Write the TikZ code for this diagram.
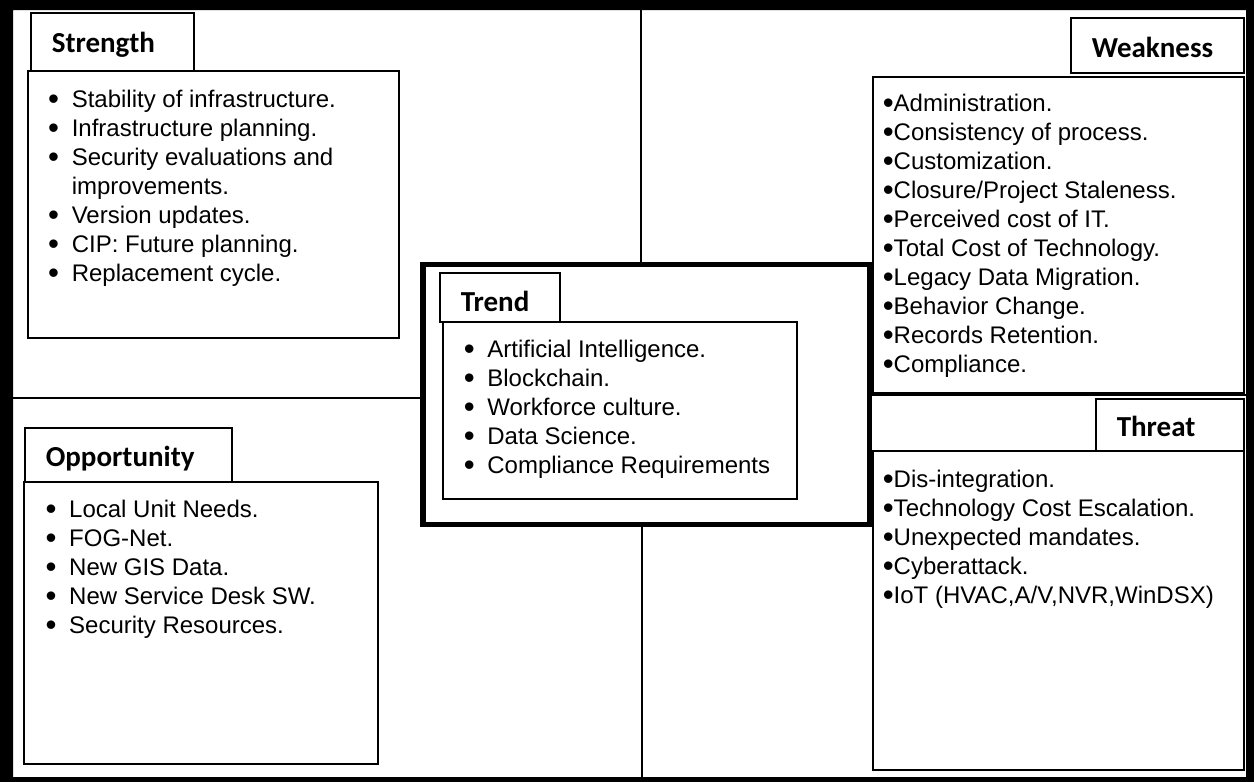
\documentclass[tikz,border=0pt]{standalone}
\usepackage{fontspec}
\setmainfont{Liberation Sans}
\newfontfamily\headfont{Carlito}
\usepackage{xcolor}
\usepackage{tikz}
\definecolor{SwotInk}{RGB}{0,0,0}
\newcommand\swotbullet{\raisebox{-1.3pt}{\scalebox{1.3}{\textbullet}}}
\newcommand\swotitem[1]{\makebox[11.8pt][l]{\swotbullet}#1\strut}
\newcommand\swotdot[1]{\swotbullet#1\strut}
\tikzset{
  headbox/.style={draw=SwotInk, line width=0.8pt, anchor=north west, inner xsep=10.5pt, inner ysep=0pt,
    text height=12.5pt, text depth=0.5pt, align=left, text=SwotInk,
    font=\headfont\fontsize{14.5}{16}\selectfont\bfseries},
  bodybox/.style={draw=SwotInk, line width=0.8pt, anchor=north west, inner sep=0pt},
  itemlist/.style={anchor=north west, inner sep=0pt, align=left, text=SwotInk, font=\fontsize{12}{14.5}\selectfont},
  quadline/.style={draw=SwotInk, line width=0.6pt}
}

\begin{document}
\begin{tikzpicture}[x=1pt, y=-1pt]
    \path[use as bounding box] (0,0) rectangle (627,391);
    \fill[SwotInk, even odd rule] (0,0) rectangle (627,391) (6.5,5) rectangle (623,388.5);
    \node[draw=SwotInk, line width=2.75pt, minimum width=223.25pt, minimum height=130pt, inner sep=0pt] (trend) at (323.125,197.25) {};
    \coordinate (vtop) at (320.5,5);
    \coordinate (vbot) at (321,388.5);
    \coordinate (hleft) at (6.5,199);
    \coordinate (hright) at (623,197.5);
    \draw[quadline] (vtop) -- (vtop |- trend.north);
    \draw[quadline] (vbot) -- (vbot |- trend.south);
    \draw[quadline] (hleft) -- (hleft -| trend.west);
    \draw[quadline] (hright) -- (hright -| trend.east);

    \node[bodybox, minimum width=185.5pt, minimum height=133.5pt] (strbody) at (13.5,35) {};
    \node[headbox, text width=60.5pt, minimum height=29pt, text height=11pt] (strhead) at (15,6) {Strength};
    \node[itemlist] (strlist) at (23.9,43.15) {
      \swotitem{Stability of infrastructure.}\\
      \swotitem{Infrastructure planning.}\\
      \swotitem{Security evaluations and}\\
      \hspace*{11.8pt}improvements.\strut\\
      \swotitem{Version updates.}\\
      \swotitem{CIP: Future planning.}\\
      \swotitem{Replacement cycle.}};

    \node[bodybox, minimum width=185.5pt, minimum height=158pt] (weakbody) at (436,38) {};
    \node[headbox, text width=65.5pt, minimum height=27.5pt] (weakhead) at (535,8.5) {Weakness};
    \node[itemlist] (weaklist) at (441.2,45.15) {
      \swotdot{Administration.}\\
      \swotdot{Consistency of process.}\\
      \swotdot{Customization.}\\
      \swotdot{Closure/Project Staleness.}\\
      \swotdot{Perceived cost of IT.}\\
      \swotdot{Total Cost of Technology.}\\
      \swotdot{Legacy Data Migration.}\\
      \swotdot{Behavior Change.}\\
      \swotdot{Records Retention.}\\
      \swotdot{Compliance.}};

    \node[bodybox, minimum width=185.5pt, minimum height=159.5pt] (thrbody) at (436,225) {};
    \node[headbox, text width=53pt, minimum height=26pt] (thrhead) at (547.5,199) {Threat};
    \node[itemlist] (thrlist) at (441.2,233.15) {
      \swotdot{Dis-integration.}\\
      \swotdot{Technology Cost Escalation.}\\
      \swotdot{Unexpected mandates.}\\
      \swotdot{Cyberattack.}\\
      \swotdot{IoT (HVAC,A/V,NVR,WinDSX)}};

    \node[bodybox, minimum width=177pt, minimum height=141pt] (oppbody) at (11.5,240.5) {};
    \node[headbox, text width=82.5pt, minimum height=27pt] (opphead) at (12,213.5) {Opportunity};
    \node[itemlist] (opplist) at (22.6,248.15) {
      \swotitem{Local Unit Needs.}\\
      \swotitem{FOG-Net.}\\
      \swotitem{New GIS Data.}\\
      \swotitem{New Service Desk SW.}\\
      \swotitem{Security Resources.}};

    \node[bodybox, minimum width=177pt, minimum height=88.5pt] (trendbody) at (221,160.5) {};
    \node[headbox, text width=39pt, minimum height=24.5pt, text height=15pt] (trendhead) at (219.5,136) {Trend};
    \node[itemlist] (trendlist) at (231.7,168.15) {
      \swotitem{Artificial Intelligence.}\\
      \swotitem{Blockchain.}\\
      \swotitem{Workforce culture.}\\
      \swotitem{Data Science.}\\
      \swotitem{Compliance Requirements}};
  \end{tikzpicture}
\end{document}
